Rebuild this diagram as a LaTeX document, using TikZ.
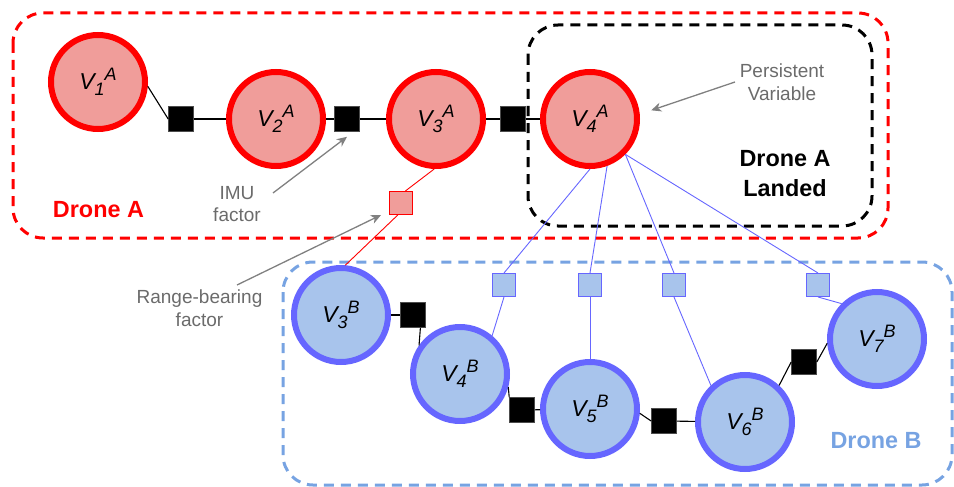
\documentclass[tikz,border=0pt]{standalone}
\usepackage{fontspec}
\setmainfont{Liberation Sans}
\usetikzlibrary{arrows.meta}

\definecolor{redfill}{HTML}{F09D9A}
\definecolor{redline}{HTML}{FF0000}
\definecolor{bluefill}{HTML}{A8C4EC}
\definecolor{blueline}{HTML}{6666FF}
\definecolor{bluedash}{HTML}{77A3E2}
\definecolor{notegray}{HTML}{6B6B6B}
\definecolor{arrowgray}{HTML}{808080}

% variable label: V, index, drone
\newcommand{\vlab}[2]{\textit{V\raisebox{-6pt}{\fontsize{18}{18}\selectfont #1}\raisebox{9pt}{\fontsize{18}{18}\selectfont #2}}}

\begin{document}
\begin{tikzpicture}[x=1pt,y=-1pt,
    vara/.style={circle,draw=redline,fill=redfill,line width=6pt,minimum size=94pt,inner sep=0pt,font=\fontsize{23}{23}\selectfont},
    varb/.style={vara,draw=blueline,fill=bluefill},
    imufac/.style={rectangle,fill=black,draw=black!70,line width=.6pt,minimum size=25pt,inner sep=0pt},
    rbfac/.style={rectangle,fill=redfill,draw=redline,line width=1pt,minimum size=23pt,inner sep=0pt},
    lmfac/.style={rbfac,fill=bluefill,draw=blueline},
    link/.style={line width=1.1pt,black},
    rlink/.style={line width=.9pt,redline},
    blink/.style={line width=.9pt,blueline},
    note/.style={font=\fontsize{19}{22.5}\selectfont,text=notegray,align=center,inner sep=0pt},
    pointer/.style={line width=1.3pt,arrowgray,-{Stealth[length=10pt,width=9pt,inset=3pt]}},
    group/.style={line width=3pt,dash pattern=on 10pt off 7pt,rounded corners=30pt}]
    \useasboundingbox (0,0) rectangle (954,487);

    % group boxes
    \draw[group,redline] (13,13) rectangle (888,238);
    \draw[group,black] (528,25) rectangle (872,226);
    \draw[group,bluedash] (283,262) rectangle (952,485);

    % drone A variables
    \node[vara] (V1A) at (98,82) {\vlab{1}{A}};
    \node[vara] (V2A) at (276,119) {\vlab{2}{A}};
    \node[vara] (V3A) at (436,119) {\vlab{3}{A}};
    \node[vara] (V4A) at (590,119) {\vlab{4}{A}};

    % drone B variables
    \node[varb] (V3B) at (341,315) {\vlab{3}{B}};
    \node[varb] (V4B) at (460,374) {\vlab{4}{B}};
    \node[varb] (V5B) at (590,409) {\vlab{5}{B}};
    \node[varb] (V6B) at (745,422) {\vlab{6}{B}};
    \node[varb] (V7B) at (877,339) {\vlab{7}{B}};

    % IMU factors
    \node[imufac] (fa1) at (181,119) {};
    \node[imufac] (fa2) at (347,119) {};
    \node[imufac] (fa3) at (513,119) {};
    \node[imufac] (fb1) at (413,315) {};
    \node[imufac] (fb2) at (522,410) {};
    \node[imufac] (fb3) at (664,421) {};
    \node[imufac] (fb4) at (804,362) {};

    % range-bearing factors
    \node[rbfac] (fr) at (401,203) {};
    \node[lmfac] (fq1) at (504,285) {};
    \node[lmfac] (fq2) at (590,285) {};
    \node[lmfac] (fq3) at (674,285) {};
    \node[lmfac] (fq4) at (818,285) {};

    % odometry chain A
    \draw[link] (V1A.-5) -- (fa1.west);
    \draw[link] (fa1) -- (V2A);
    \draw[link] (V2A) -- (fa2);
    \draw[link] (fa2) -- (V3A);
    \draw[link] (V3A) -- (fa3);
    \draw[link] (fa3) -- (V4A);

    % odometry chain B
    \draw[link] (V3B) -- (fb1);
    \draw[link] (fb1.-60) -- (V4B.145);
    \draw[link] (V4B.-15) -- (fb2.north west);
    \draw[link] (fb2) -- (V5B);
    \draw[link] (V5B.-5) -- (fb3.west);
    \draw[link] (fb3) -- (V6B);
    \draw[link] (V6B.47) -- (fb4.west);
    \draw[link] (fb4.east) -- (V7B.185);

    % inter-drone measurements
    \draw[rlink] (V3A.-92) -- (fr.70);
    \draw[rlink] (fr.-105) -- (V3B.85);
    \draw[blink] (V4A.south) -- (fq1.north);
    \draw[blink] (V4A.-70) -- (fq2.north);
    \draw[blink] (V4A.-45) -- (fq3.north);
    \draw[blink] (V4A.-45) -- (fq4.north);
    \draw[blink] (fq1.south) -- (V4B.50);
    \draw[blink] (fq2.south) -- (V5B.north);
    \draw[blink] (fq3.south) -- (V6B.133);
    \draw[blink] (fq4.south) -- (V7B.135);

    % labels
    \node[font=\fontsize{23.4}{28}\selectfont\bfseries,text=redline,anchor=base] (droneA) at (98.5,217) {Drone A};
    \node[font=\fontsize{23.4}{28}\selectfont\bfseries,text=bluedash,anchor=base] (droneB) at (876,448) {Drone B};
    \node[font=\fontsize{23.4}{30}\selectfont\bfseries,align=center,inner sep=0pt] (landed) at (785,174) {Drone A\\Landed};
    \node[note] (imu) at (237,204) {IMU\\factor};
    \node[note] (rb) at (199.5,308) {Range-bearing\\factor};
    \node[note] (persist) at (782,82) {Persistent\\Variable};

    % pointers
    \coordinate (imutail) at (273,193);
    \coordinate (rbtail) at (237,285);
    \coordinate (persisttail) at (735,82);
    \draw[pointer] (imutail) -- ([yshift=-5pt]fa2.south);
    \draw[pointer] (rbtail) -- ([xshift=-8pt]fr.south west);
    \draw[pointer] (persisttail) -- ([xshift=12pt]V4A.10);
\end{tikzpicture}
\end{document}
